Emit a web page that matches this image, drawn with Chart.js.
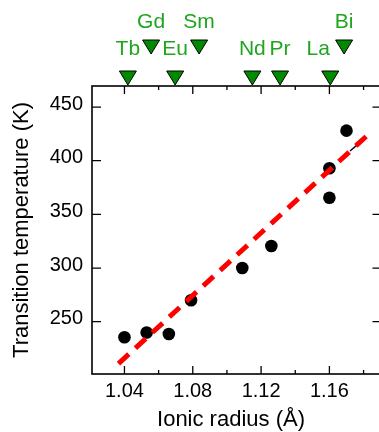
<!DOCTYPE html>
<html>
<head>
<meta charset="utf-8">
<script src="https://cdn.jsdelivr.net/npm/chart.js@4.4.0/dist/chart.umd.min.js"></script>
<style>
  html, body { margin: 0; padding: 0; overflow: hidden; background: #fff; }
  canvas { display: block; }
</style>
</head>
<body>
<canvas id="radius-chartcanvas" width="383" height="432"></canvas>
<script>
// measured points: ionic radius (Å) vs transition temperature (K)
const radius = [1.040, 1.053, 1.066, 1.079, 1.109, 1.126, 1.160, 1.160, 1.170];
const tempK = [235.5, 240, 238.5, 270, 300, 320.5, 393, 365.5, 428];

// linear fit (red dashes)
const fitX = [1.0365, 1.1818];
const fitY = [211, 423];

// short black stroke next to the Bi point
const markX = [1.1721, 1.1772];
const markY = [409, 416];

// element markers above the frame
const lowerNames = ['Tb', 'Eu', 'Nd', 'Pr', 'La'];
const lowerRadius = [1.042, 1.0697, 1.1149, 1.1311, 1.1605];
const upperNames = ['Gd', 'Sm', 'Bi'];
const upperRadius = [1.0556, 1.0837, 1.1686];

const xTicks = [1.04, 1.06, 1.08, 1.10, 1.12, 1.14, 1.16, 1.18];
const xLabeled = [1.04, 1.08, 1.12, 1.16];
const yTicks = [250, 300, 350, 400, 450];

const green = '#1fa51f';
const triFill = '#008a00';

function tri(ctx, cx, top) {
    ctx.beginPath();
    ctx.moveTo(cx - 8.5, top);
    ctx.lineTo(cx + 8.5, top);
    ctx.lineTo(cx, top + 14);
    ctx.closePath();
    ctx.fillStyle = triFill;
    ctx.fill();
    ctx.strokeStyle = '#000';
    ctx.lineWidth = 1;
    ctx.stroke();
}

const framePlugin = {
    id: 'frame',
    afterDraw(chart) {
        const { ctx, chartArea: a, scales: { x, y } } = chart;
        ctx.save();
        ctx.strokeStyle = '#000';
        ctx.lineWidth = 1.6;
        ctx.strokeRect(a.left, a.top, a.right - a.left, a.bottom - a.top);

        ctx.lineWidth = 1.3;
        x.ticks.forEach(t => {
            const px = x.getPixelForValue(t.value);
            const len = xLabeled.includes(t.value) ? 8 : 4;
            ctx.beginPath();
            ctx.moveTo(px, a.bottom); ctx.lineTo(px, a.bottom - len);
            ctx.moveTo(px, a.top); ctx.lineTo(px, a.top + len);
            ctx.stroke();
        });
        y.ticks.forEach(t => {
            const py = y.getPixelForValue(t.value);
            ctx.beginPath();
            ctx.moveTo(a.left, py); ctx.lineTo(a.left + 9, py);
            ctx.moveTo(a.right, py); ctx.lineTo(a.right - 9, py);
            ctx.stroke();
        });

        // x title
        ctx.fillStyle = '#000';
        ctx.font = '22px "Liberation Sans", Arial, sans-serif';
        ctx.textAlign = 'center';
        ctx.textBaseline = 'alphabetic';
        ctx.fillText('Ionic radius (Å)', 231, 426);

        // element markers
        ctx.font = '21px "Liberation Sans", Arial, sans-serif';
        lowerNames.forEach((n, i) => {
            const px = x.getPixelForValue(lowerRadius[i]);
            tri(ctx, px, 71);
            ctx.fillStyle = green;
            const shift = n === 'La' ? -12 : 0;
            ctx.fillText(n, px + shift, 55);
        });
        upperNames.forEach((n, i) => {
            const px = x.getPixelForValue(upperRadius[i]);
            tri(ctx, px, 40);
            ctx.fillStyle = green;
            ctx.fillText(n, px, 28);
        });
        ctx.restore();
    }
};

const ctx = document.getElementById('radius-chartcanvas');
const myChart = new Chart(ctx, {
    type: 'scatter',
    data: {
        datasets: [{
            label: 'fit',
            type: 'line',
            data: fitX.map((v, i) => ({ x: v, y: fitY[i] })),
            borderColor: '#ff0000',
            borderWidth: 5,
            borderDash: [14, 9],
            borderCapStyle: 'butt',
            pointRadius: 0,
            order: 0,
        }, {
            label: 'Tc',
            data: radius.map((v, i) => ({ x: v, y: tempK[i] })),
            backgroundColor: '#000',
            borderWidth: 0,
            pointRadius: 6.3,
            order: 1,
        }, {
            label: 'mark',
            type: 'line',
            data: markX.map((v, i) => ({ x: v, y: markY[i] })),
            borderColor: '#000',
            borderWidth: 1.5,
            pointRadius: 0,
            order: 2,
        }]
    },
    options: {
        responsive: false,
        animation: false,
        layout: {
            autoPadding: false,
            padding: { top: 86, right: 1.5, left: 0, bottom: 0 },
        },
        plugins: {
            legend: { display: false },
            tooltip: { enabled: false },
        },
        scales: {
            x: {
                type: 'linear',
                min: 1.021,
                max: 1.1905,
                afterBuildTicks: s => { s.ticks = xTicks.map(v => ({ value: v })); },
                afterFit: s => { s.height = 58; s.paddingLeft = 0; s.paddingRight = 0; },
                grid: { display: false, drawTicks: false },
                border: { display: false },
                ticks: {
                    padding: 5,
                    color: '#000',
                    font: { family: '"Liberation Sans", Arial, sans-serif', size: 20 },
                    callback: v => xLabeled.includes(v) ? v.toFixed(2) : '',
                    maxRotation: 0,
                    autoSkip: false,
                },
            },
            y: {
                min: 201.3,
                max: 469.6,
                afterBuildTicks: s => { s.ticks = yTicks.map(v => ({ value: v })); },
                afterFit: s => { s.width = 92; s.paddingTop = 0; s.paddingBottom = 0; },
                grid: { display: false, drawTicks: false },
                border: { display: false },
                ticks: {
                    padding: 9,
                    labelOffset: -3,
                    color: '#000',
                    font: { family: '"Liberation Sans", Arial, sans-serif', size: 20 },
                },
                title: {
                    display: true,
                    text: 'Transition temperature (K)',
                    color: '#000',
                    font: { family: '"Liberation Sans", Arial, sans-serif', size: 22 },
                    padding: { top: 9, bottom: 9 },
                },
            }
        }
    },
    plugins: [framePlugin]
});
</script>
</body>
</html>
